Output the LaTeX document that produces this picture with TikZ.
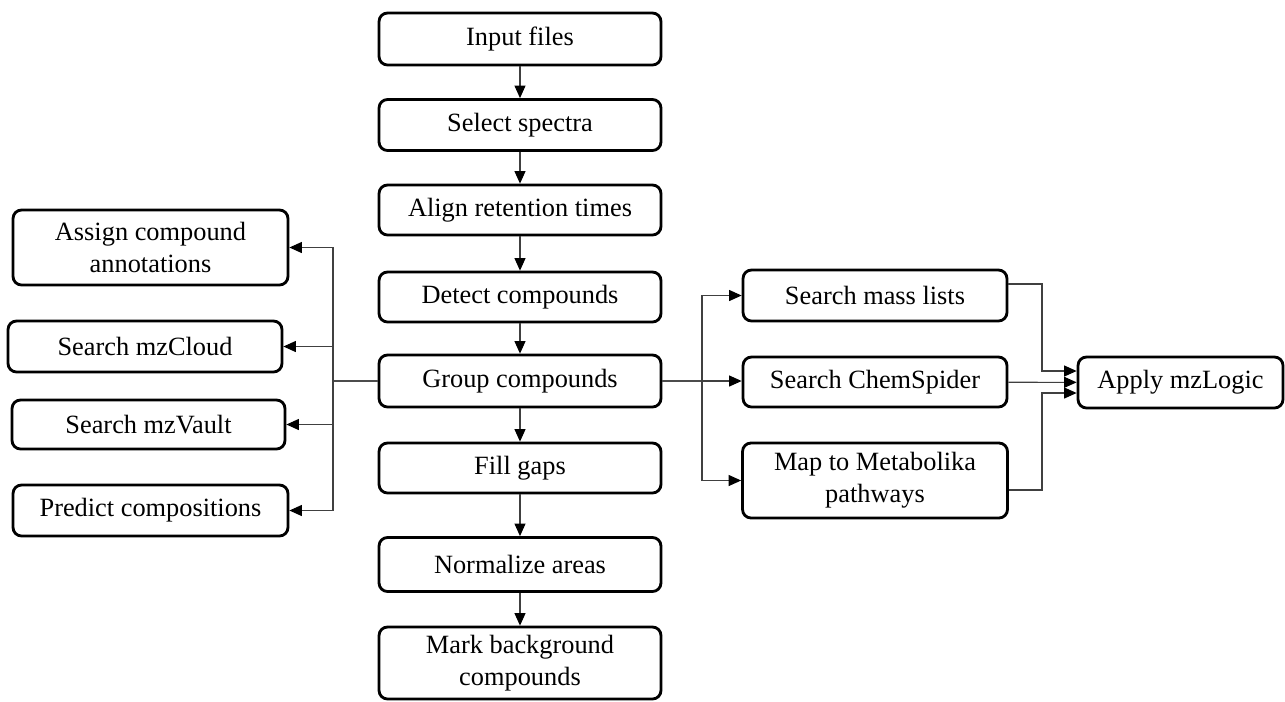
\documentclass[tikz,border=0pt]{standalone}
\usepackage{fontspec}
\setmainfont{Liberation Serif}
\usetikzlibrary{arrows.meta}

\begin{document}
\begin{tikzpicture}[x=0.02cm,y=-0.02cm,
  stepbox/.style={draw,line width=1.6pt,rounded corners=0.17cm,align=center,
    inner sep=0pt,font=\fontsize{15}{18}\selectfont},
  link/.style={-{Triangle[length=2.5mm,width=2.2mm,color=black]},black!75,line width=0.6pt},
  wire/.style={black!70,line width=0.6pt}]
  \useasboundingbox (0,0) rectangle (1285,701);
  % main column
  \node[stepbox,minimum width=5.64cm,minimum height=1.04cm] (input) at (520,39) {Input files};
  \node[stepbox,minimum width=5.64cm,minimum height=1.02cm] (select) at (520,125) {Select spectra};
  \node[stepbox,minimum width=5.64cm,minimum height=1cm] (align) at (520,210) {Align retention times};
  \node[stepbox,minimum width=5.64cm,minimum height=1cm] (detect) at (520,297) {Detect compounds};
  \node[stepbox,minimum width=5.64cm,minimum height=1.04cm] (group) at (520,381) {Group compounds};
  \node[stepbox,minimum width=5.64cm,minimum height=1cm] (fill) at (520,468) {Fill gaps};
  \node[stepbox,minimum width=5.64cm,minimum height=1.08cm] (norm) at (520,564.5) {Normalize areas};
  \node[stepbox,minimum width=5.64cm,minimum height=1.44cm] (mark) at (520,663) {Mark background\\compounds};
  % left column
  \node[stepbox,minimum width=5.5cm,minimum height=1.5cm] (assign) at (150.5,247.5) {Assign compound\\annotations};
  \node[stepbox,minimum width=5.48cm,minimum height=1.02cm] (cloud) at (145,346.5) {Search mzCloud};
  \node[stepbox,minimum width=5.46cm,minimum height=0.98cm] (vault) at (148.5,424.5) {Search mzVault};
  \node[stepbox,minimum width=5.5cm,minimum height=1.02cm] (predict) at (150.5,510.5) {Predict compositions};
  % right column
  \node[stepbox,minimum width=5.28cm,minimum height=1.02cm] (mass) at (875,295.5) {Search mass lists};
  \node[stepbox,minimum width=5.28cm,minimum height=1cm] (spider) at (875,382) {Search ChemSpider};
  \node[stepbox,minimum width=5.3cm,minimum height=1.5cm] (map) at (875,480.5) {Map to Metabolika\\pathways};
  \node[stepbox,minimum width=4.1cm,minimum height=1.02cm] (apply) at (1180.5,382.5) {Apply mzLogic};

  \foreach \a/\b in {input/select,select/align,align/detect,detect/group,
                     group/fill,fill/norm,norm/mark}
    \draw[link] (\a) -- (\b);

  \coordinate (lbus) at (333,381);
  \coordinate (rbus) at (702,381);
  \coordinate (mbus) at (1042,382);
  \draw[wire] (group.west) -- (lbus);
  \draw[wire] (group.east) -- (rbus);
  \foreach \t in {assign,cloud,vault,predict}
    \draw[link] (lbus) |- (\t);
  \draw[link] (rbus) |- (mass);
  \draw[link] (rbus) |- (map);
  \draw[link] (rbus) -- (spider.west |- rbus);

  \coordinate (intop) at ([yshift=0.23cm]apply.west);
  \coordinate (inbot) at ([yshift=-0.21cm]apply.west);
  \draw[link] ([yshift=0.23cm]mass.east) -| (mbus |- intop) -- (intop);
  \draw[link] (spider) -- (apply);
  \draw[link] ([yshift=-0.19cm]map.east) -| (mbus |- inbot) -- (inbot);
\end{tikzpicture}
\end{document}
